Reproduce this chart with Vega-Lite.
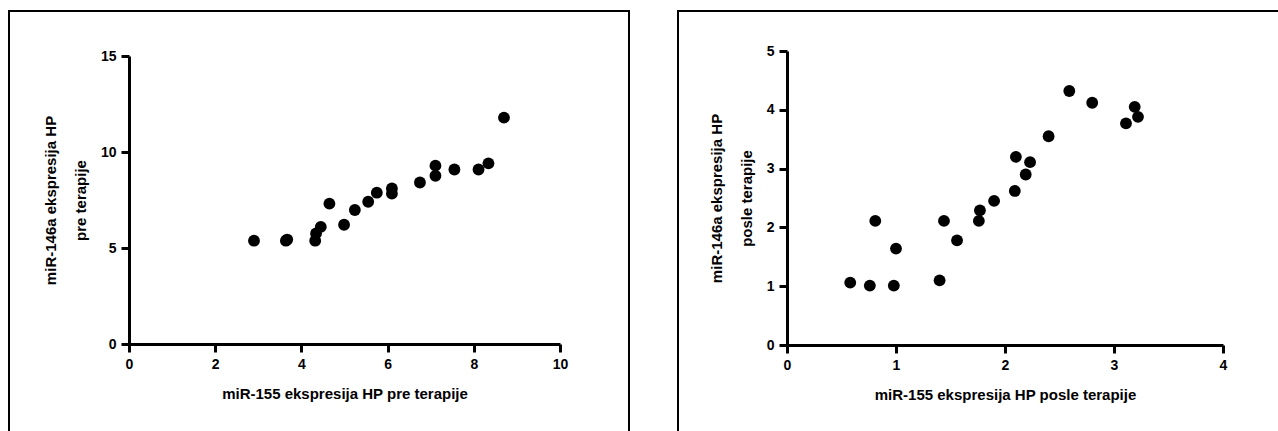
{
  "$schema": "https://vega.github.io/schema/vega-lite/v6.json",
  "autosize": {"type": "pad"},
  "padding": {"left": 8, "top": 10, "right": -7, "bottom": -9},
  "spacing": 47,
  "config": {
    "font": "Liberation Sans",
    "view": {"stroke": "black", "strokeWidth": 2},
    "axis": {
      "grid": false,
      "domainColor": "black",
      "domainWidth": 3,
      "tickColor": "black",
      "tickWidth": 3,
      "tickSize": 8,
      "labelColor": "black",
      "labelFontSize": 14,
      "labelFontWeight": "bold",
      "labelFlush": false,
      "labelOverlap": false,
      "titleColor": "black",
      "titleFontSize": 15,
      "titleFontWeight": "bold"
    },
    "axisX": {"labelPadding": 5, "titlePadding": 15},
    "axisY": {"labelPadding": 5, "titlePadding": 12, "titleLineHeight": 30}
  },
  "datasets": {
    "pre": [
      {"mir155": 2.90, "mir146a": 5.38},
      {"mir155": 3.64, "mir146a": 5.38},
      {"mir155": 3.67, "mir146a": 5.44},
      {"mir155": 4.32, "mir146a": 5.38},
      {"mir155": 4.34, "mir146a": 5.76},
      {"mir155": 4.45, "mir146a": 6.10},
      {"mir155": 4.65, "mir146a": 7.31},
      {"mir155": 4.99, "mir146a": 6.21},
      {"mir155": 5.24, "mir146a": 6.98},
      {"mir155": 5.55, "mir146a": 7.41},
      {"mir155": 5.75, "mir146a": 7.88},
      {"mir155": 6.10, "mir146a": 8.10},
      {"mir155": 6.10, "mir146a": 7.83},
      {"mir155": 6.75, "mir146a": 8.41},
      {"mir155": 7.11, "mir146a": 9.29},
      {"mir155": 7.11, "mir146a": 8.76},
      {"mir155": 7.55, "mir146a": 9.09},
      {"mir155": 8.11, "mir146a": 9.09},
      {"mir155": 8.34, "mir146a": 9.41},
      {"mir155": 8.70, "mir146a": 11.79}
    ],
    "posle": [
      {"mir155": 0.58, "mir146a": 1.06},
      {"mir155": 0.76, "mir146a": 1.01},
      {"mir155": 0.81, "mir146a": 2.11},
      {"mir155": 0.98, "mir146a": 1.01},
      {"mir155": 1.00, "mir146a": 1.64},
      {"mir155": 1.40, "mir146a": 1.10},
      {"mir155": 1.44, "mir146a": 2.11},
      {"mir155": 1.56, "mir146a": 1.78},
      {"mir155": 1.76, "mir146a": 2.11},
      {"mir155": 1.77, "mir146a": 2.29},
      {"mir155": 1.90, "mir146a": 2.45},
      {"mir155": 2.09, "mir146a": 2.62},
      {"mir155": 2.10, "mir146a": 3.20},
      {"mir155": 2.19, "mir146a": 2.90},
      {"mir155": 2.23, "mir146a": 3.11},
      {"mir155": 2.40, "mir146a": 3.55},
      {"mir155": 2.59, "mir146a": 4.32},
      {"mir155": 2.80, "mir146a": 4.12},
      {"mir155": 3.11, "mir146a": 3.77},
      {"mir155": 3.19, "mir146a": 4.05},
      {"mir155": 3.22, "mir146a": 3.88}
    ]
  },
  "hconcat": [
    {
      "width": 620,
      "height": 430,
      "data": {"name": "pre"},
      "mark": {"type": "circle", "size": 140, "color": "black", "opacity": 1},
      "encoding": {
        "x": {
          "field": "mir155",
          "type": "quantitative",
          "scale": {"domain": [0, 10], "range": [120, 551], "nice": false, "zero": false},
          "axis": {"title": "miR-155 ekspresija HP pre terapije", "offset": -97, "values": [0, 2, 4, 6, 8, 10]}
        },
        "y": {
          "field": "mir146a",
          "type": "quantitative",
          "scale": {"domain": [0, 15], "range": [333, 45], "nice": false, "zero": false},
          "axis": {"title": ["miR-146a ekspresija HP", "pre terapije"], "offset": -120, "values": [0, 5, 10, 15]}
        }
      }
    },
    {
      "width": 610,
      "height": 430,
      "data": {"name": "posle"},
      "mark": {"type": "circle", "size": 140, "color": "black", "opacity": 1},
      "encoding": {
        "x": {
          "field": "mir155",
          "type": "quantitative",
          "scale": {"domain": [0, 4], "range": [109, 545], "nice": false, "zero": false},
          "axis": {"title": "miR-155 ekspresija HP posle terapije", "offset": -96, "values": [0, 1, 2, 3, 4]}
        },
        "y": {
          "field": "mir146a",
          "type": "quantitative",
          "scale": {"domain": [0, 5], "range": [334, 40], "nice": false, "zero": false},
          "axis": {"title": ["miR-146a ekspresija HP", "posle terapije"], "offset": -109, "values": [0, 1, 2, 3, 4, 5]}
        }
      }
    }
  ]
}
